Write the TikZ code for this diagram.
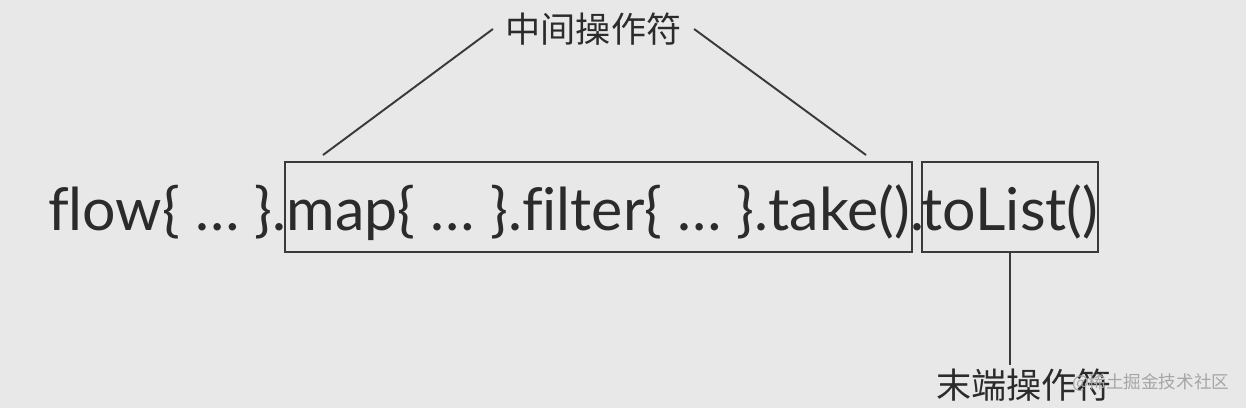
\documentclass[tikz,border=0pt]{standalone}
\usepackage{fontspec}
\setmainfont{Lato}[Ligatures=NoCommon]
\newfontfamily\cjk{Noto Sans CJK SC}
\usepackage{xcolor}
\usetikzlibrary{positioning, arrows.meta}

\definecolor{bggray}{HTML}{E8E8E8}
\definecolor{inkgray}{HTML}{2B2B2B}
\definecolor{linegray}{HTML}{3A3A3A}

\tikzset{
  codetxt/.style={inner sep=0pt, text=inkgray, font=\fontsize{16.8pt}{19pt}\selectfont},
  opbox/.style={draw=linegray, line width=0.5pt, inner sep=0pt, text=inkgray,
                text height=0.6cm, text depth=0.14cm,
                font=\fontsize{16.8pt}{19pt}\selectfont},
  oplabel/.style={text=inkgray, font=\cjk\fontsize{10pt}{12pt}\selectfont},
  conn/.style={line width=0.55pt, linegray}
}

\begin{document}
\begin{tikzpicture}[x=0.01cm, y=-0.01cm]
  \fill[bggray] (0,0) rectangle (1246,408);
  \useasboundingbox (0,0) rectangle (1246,408);

  % boxes around the operators
  \node[opbox, minimum width=6.27cm, minimum height=0.9cm] (midbox) at (598.5,207)
        {map\{ … \}.filter\{ … \}.take()};
  \node[opbox, minimum width=1.74cm, minimum height=0.9cm] (endbox) at (1010,207)
        {toList()};
  \node[codetxt, anchor=base east] (flowtxt) at (287,230) {flow\{ … \}.};
  \node[codetxt, anchor=base] (septxt) at (917,230) {.};

  \node[oplabel, inner sep=3.4pt] (midlabel) at (593.5,29) {中间操作符};
  \node[oplabel, inner sep=1pt] (endlabel) at (1024,385) {末端操作符};
  \node[text=gray!70, font=\cjk\fontsize{5pt}{6pt}\selectfont, anchor=east, inner sep=0pt] (mark) at (1230,383)
        {@稀土掘金技术社区};

  \coordinate (midL) at (323,155);
  \coordinate (midR) at (866,155);
  \draw[conn] (midlabel.west) -- (midL);
  \draw[conn] (midlabel.east) -- (midR);
  \draw[conn] (endbox.south) -- (endbox.south |- endlabel.north);

\end{tikzpicture}
\end{document}
